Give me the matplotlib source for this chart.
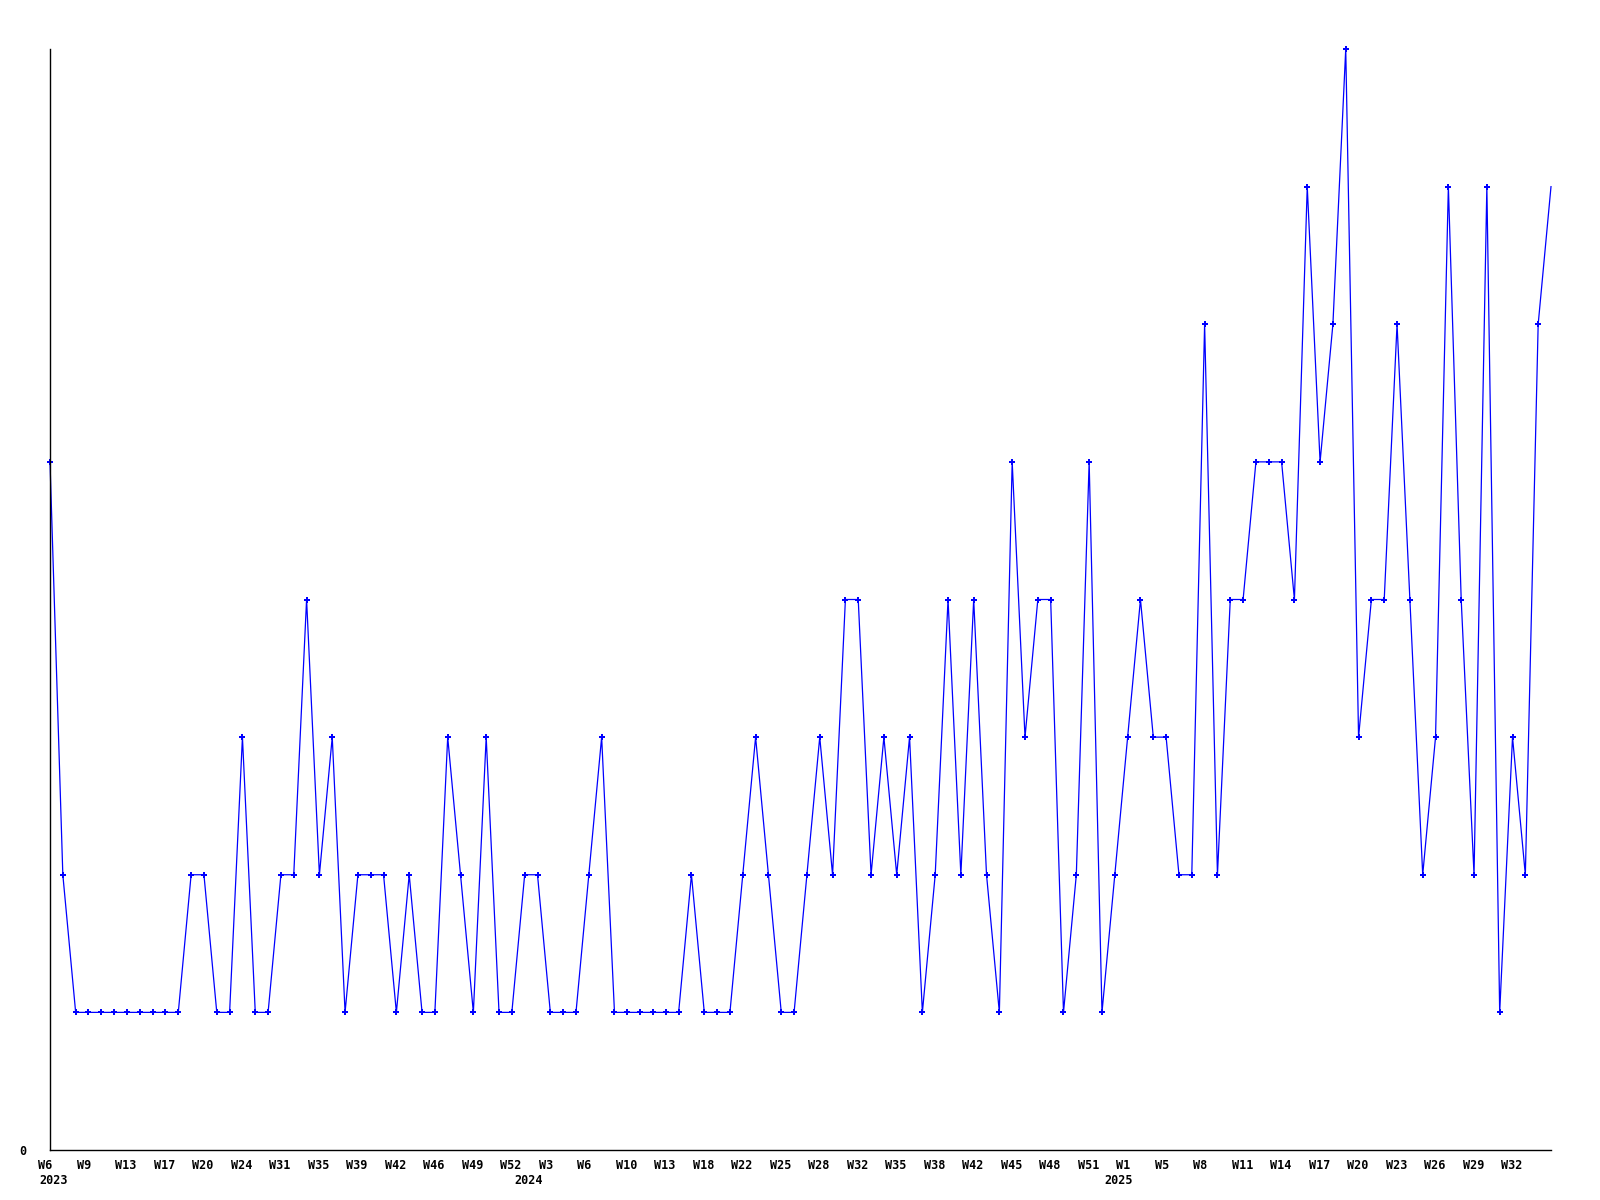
import matplotlib
matplotlib.use("Agg")
import matplotlib.pyplot as plt
import matplotlib.transforms as mtransforms

# weekly counts, one value per plotted week
values = [5, 2, 1, 1, 1, 1, 1, 1, 1, 1, 1,
          2, 2, 1, 1, 3, 1, 1, 2, 2, 4,
          2, 3, 1, 2, 2, 2, 1, 2, 1, 1,
          3, 2, 1, 3, 1, 1, 2, 2, 1, 1,
          1, 2, 3, 1, 1, 1, 1, 1, 1, 2,
          1, 1, 1, 2, 3, 2, 1, 1, 2, 3,
          2, 4, 4, 2, 3, 2, 3, 1, 2, 4,
          2, 4, 2, 1, 5, 3, 4, 4, 1, 2,
          5, 1, 2, 3, 4, 3, 3, 2, 2, 6,
          2, 4, 4, 5, 5, 5, 4, 7, 5, 6,
          8, 3, 4, 4, 6, 4, 2, 3, 7, 4,
          2, 7, 1, 3, 2, 6, 7]

# a label every third point
week_labels = ["W6", "W9", "W13", "W17", "W20", "W24", "W31", "W35", "W39", "W42",
               "W46", "W49", "W52", "W3", "W6", "W10", "W13", "W18", "W22", "W25",
               "W28", "W32", "W35", "W38", "W42", "W45", "W48", "W51", "W1", "W5",
               "W8", "W11", "W14", "W17", "W20", "W23", "W26", "W29", "W32"]
years = ["2023", "2024", "2025"]
year_pos = [-0.81, 36.16, 82.2]

font = dict(family="DejaVu Sans Mono", weight="bold", size=8.5)

fig = plt.figure(figsize=(16, 12), dpi=100)
ax = fig.add_axes([50 / 1600, 1 - 1150 / 1200, 1501 / 1600, 1101 / 1200])

x = list(range(len(values)))
ax.plot(x, values, color="#0000ff", lw=0.9, marker="P", ms=3.8, mew=0,
        markevery=list(range(len(values) - 1)), clip_on=False)

ax.set_xlim(0, len(values) - 1)
ax.set_ylim(0, 8)

ax.spines["top"].set_visible(False)
ax.spines["right"].set_visible(False)
ax.spines["left"].set_linewidth(1)
ax.spines["bottom"].set_linewidth(1)

ax.set_xticks([])
ax.set_yticks([0])
ax.set_yticklabels(["0"], **font)
ax.tick_params(axis="y", length=0, pad=17)

# week labels sit left-aligned a little before their point
trans = mtransforms.blended_transform_factory(ax.transData, ax.transAxes)
shift = trans + mtransforms.ScaledTranslation(-11.5 / 100, 0, fig.dpi_scale_trans)
for i, lab in enumerate(week_labels):
    ax.text(3 * i, -0.008, lab, transform=shift, ha="left", va="top", **font)

for yr, px in zip(years, year_pos):
    ax.text(px, -0.022, yr, transform=trans, ha="left", va="top", **font)

fig.savefig("out.png", dpi=100)
